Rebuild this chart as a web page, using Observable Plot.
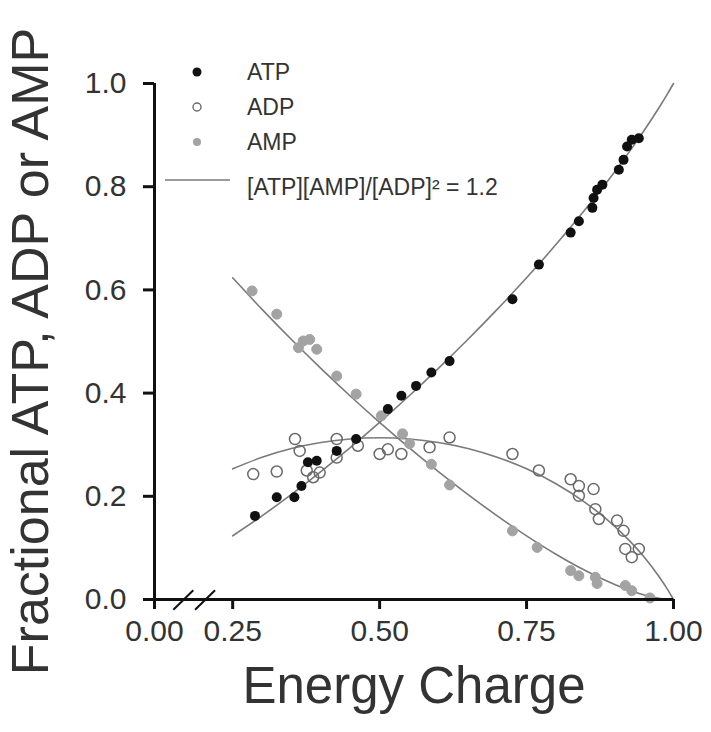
<!DOCTYPE html>
<html><head><meta charset="utf-8">
<script src="https://cdn.jsdelivr.net/npm/d3@7"></script>
<script src="https://cdn.jsdelivr.net/npm/@observablehq/plot@0.6"></script>
<style>
body{margin:0;background:#fff;}
#chart{position:relative;width:711px;height:732px;}
svg{display:block;font-family:"Liberation Sans",Arial,sans-serif;}
</style></head><body><div id="chart"></div>
<script>
// Axis ticks (the first x tick sits at the broken-axis origin and is labelled 0.00)
const xTicks = [0.117, 0.25, 0.5, 0.75, 1.0];
const xTickLabels = ["0.00", "0.25", "0.50", "0.75", "1.00"];
const yTicks = [0, 0.2, 0.4, 0.6, 0.8, 1.0];
const breakCenters = [0.166, 0.203];

// Measured points: energy charge and fraction
const atpCharge   = [0.288,0.325,0.355,0.367,0.378,0.393,0.427,0.460,0.514,0.537,0.562,0.588,0.619,0.726,0.771,0.825,0.839,0.862,0.864,0.870,0.879,0.907,0.915,0.921,0.929,0.941];
const atpFraction = [0.162,0.198,0.198,0.220,0.266,0.269,0.288,0.311,0.369,0.395,0.414,0.440,0.462,0.582,0.649,0.711,0.733,0.759,0.778,0.794,0.804,0.833,0.852,0.878,0.891,0.894];

const adpCharge   = [0.285,0.325,0.356,0.364,0.376,0.387,0.398,0.427,0.427,0.463,0.500,0.514,0.537,0.585,0.619,0.726,0.771,0.825,0.839,0.864,0.839,0.867,0.873,0.904,0.915,0.918,0.941,0.929];
const adpFraction = [0.243,0.248,0.311,0.288,0.250,0.237,0.246,0.311,0.275,0.298,0.282,0.291,0.282,0.295,0.314,0.282,0.250,0.233,0.220,0.214,0.201,0.175,0.156,0.153,0.133,0.098,0.098,0.082];

const ampCharge   = [0.283,0.325,0.362,0.370,0.381,0.393,0.427,0.460,0.503,0.539,0.551,0.588,0.619,0.726,0.768,0.825,0.839,0.867,0.870,0.918,0.929,0.960];
const ampFraction = [0.598,0.553,0.488,0.501,0.504,0.485,0.433,0.398,0.356,0.321,0.302,0.262,0.222,0.133,0.101,0.056,0.046,0.043,0.031,0.027,0.017,0.003];

// Equilibrium curve [ATP][AMP]/[ADP]^2 = 1.2 (values as read/tabulated)
const curveCharge = [0.25,0.30,0.35,0.40,0.45,0.50,0.55,0.60,0.65,0.70,0.75,0.80,0.85,0.90,0.925,0.95,0.975,0.99,1.00];
const curveATP = [0.1234,0.1622,0.2038,0.2479,0.2944,0.3433,0.3944,0.4479,0.5038,0.5622,0.6234,0.6878,0.7561,0.8291,0.8680,0.9089,0.9525,0.9804,1.0];
const curveADP = [0.2532,0.2756,0.2925,0.3042,0.3111,0.3134,0.3111,0.3042,0.2925,0.2756,0.2532,0.2244,0.1879,0.1418,0.1140,0.0822,0.0449,0.0191,0];
const curveAMP = [0.6234,0.5622,0.5038,0.4479,0.3944,0.3433,0.2944,0.2479,0.2038,0.1622,0.1234,0.0878,0.0561,0.0291,0.0180,0.0089,0.0025,0.0004,0];

const legendLabels = ["ATP", "ADP", "AMP"];
const equationLabel = "[ATP][AMP]/[ADP]\u00B2 = 1.2";
const xLabel = "Energy Charge";
const yLabel = "Fractional ATP, ADP or AMP";

const pts = (xs, ys) => xs.map((x, i) => ({x, y: ys[i]}));
const atp = pts(atpCharge, atpFraction);
const adp = pts(adpCharge, adpFraction);
const amp = pts(ampCharge, ampFraction);
const curves = [
  ...pts(curveCharge, curveATP).map(d => ({...d, s: "ATP"})),
  ...pts(curveCharge, curveADP).map(d => ({...d, s: "ADP"})),
  ...pts(curveCharge, curveAMP).map(d => ({...d, s: "AMP"}))
];

const ink = "#333";
const axisInk = "#111";
const lineGray = "#7a7a7a";

const chart = Plot.plot({
  width: 711,
  height: 732,
  marginLeft: 154,
  marginRight: 38,
  marginTop: 83,
  marginBottom: 133,
  style: {fontFamily: "'Liberation Sans', Arial, sans-serif", background: "#fff"},
  x: {domain: [xTicks[0], 1.0]},
  y: {domain: [0, 1.0]},
  marks: [
    Plot.line(curves, {x: "x", y: "y", z: "s", stroke: lineGray, strokeWidth: 1.6, curve: "monotone-x"}),
    Plot.dot(amp, {x: "x", y: "y", r: 5, fill: "#a3a3a3", stroke: "#a3a3a3", strokeWidth: 1}),
    Plot.dot(adp, {x: "x", y: "y", r: 5.5, fill: "none", stroke: "#6a6a6a", strokeWidth: 1.5}),
    Plot.dot(atp, {x: "x", y: "y", r: 5, fill: "#111"}),
    Plot.ruleY([0], {stroke: axisInk, strokeWidth: 3}),
    Plot.ruleX([xTicks[0]], {y1: 0, y2: 1, stroke: axisInk, strokeWidth: 3}),
    Plot.link(breakCenters, {x1: d => d - 0.017, x2: d => d + 0.017, y1: () => -0.02, y2: () => 0.018, stroke: axisInk, strokeWidth: 2}),
    Plot.axisX({ticks: xTicks, tickFormat: d => xTickLabels[xTicks.indexOf(d)], tickSize: 10, tickPadding: 10,
      fontSize: 30, stroke: axisInk, strokeWidth: 3, fill: ink, label: null}),
    Plot.axisY({ticks: yTicks, tickFormat: d3.format(".1f"), tickSize: 11, tickPadding: 17,
      fontSize: 30, stroke: axisInk, strokeWidth: 3, fill: ink, label: null}),
    Plot.text([xLabel], {frameAnchor: "bottom", dy: 87, fontSize: 51, fill: ink, lineAnchor: "middle", textAnchor: "middle"}),
    Plot.text([yLabel], {frameAnchor: "left", dx: -123, dy: 10, rotate: -90, fontSize: 52, fill: ink, lineAnchor: "middle", textAnchor: "middle"})
  ]
});

// Legend drawn inside the plot area (top-left)
const svg = d3.select(chart);
const lg = svg.append("g")
  .attr("font-family", "'Liberation Sans', Arial, sans-serif")
  .attr("font-size", 23).attr("fill", ink).attr("text-anchor", "start");
const rowY = [72, 107, 142];
const symbolX = 197, textX = 247;
lg.append("circle").attr("cx", symbolX).attr("cy", rowY[0]).attr("r", 4.5).attr("fill", "#111");
lg.append("circle").attr("cx", symbolX).attr("cy", rowY[1]).attr("r", 4).attr("fill", "none").attr("stroke", "#6a6a6a").attr("stroke-width", 1.4);
lg.append("circle").attr("cx", symbolX).attr("cy", rowY[2]).attr("r", 4).attr("fill", "#a3a3a3");
legendLabels.forEach((t, i) => {
  lg.append("text").attr("x", textX).attr("y", rowY[i] + 8).attr("text-anchor", "start").text(t);
});
lg.append("line").attr("x1", 165).attr("x2", 230).attr("y1", 180).attr("y2", 180).attr("stroke", lineGray).attr("stroke-width", 1.6);
lg.append("text").attr("x", textX).attr("y", 195).attr("text-anchor", "start").text(equationLabel);

document.getElementById("chart").appendChild(chart);
</script>
</body></html>
